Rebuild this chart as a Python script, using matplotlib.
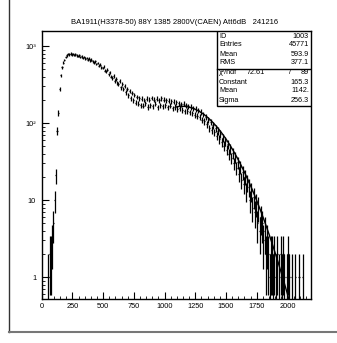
import matplotlib
matplotlib.use("Agg")
import matplotlib.pyplot as plt
from matplotlib.lines import Line2D
from matplotlib.patches import Rectangle
import numpy as np

plt.rcParams['font.family'] = ['Liberation Sans', 'DejaVu Sans']

title = "BA1911(H3378-50) 88Y 1385 2800V(CAEN) Att6dB   241216"

# histogram: 10-unit bins starting at 0
bin_width = 10
counts = [
    0, 0, 0, 0, 0, 1, 2, 2, 3, 5,                              # 0-90
    10, 21, 80, 135, 280, 420, 530, 610, 660, 720,              # 100-190
    760, 790, 780, 800, 775, 790, 765, 780, 755, 745,           # 200-290
    760, 725, 735, 700, 720, 685, 705, 665, 685, 645,           # 300-390
    665, 635, 615, 635, 585, 605, 555, 575, 530, 520,           # 400-490
    540, 480, 470, 490, 430, 455, 400, 385, 410, 350,           # 500-590
    375, 330, 325, 350, 290, 325, 275, 305, 250, 280,           # 600-690
    230, 262, 210, 245, 198, 232, 185, 220, 178, 210,           # 700-790
    172, 208, 168, 200, 180, 208, 162, 202, 172, 212,           # 800-890
    165, 202, 178, 208, 160, 198, 172, 210, 165, 202,           # 900-990
    170, 198, 160, 196, 168, 192, 155, 190, 162, 186,           # 1000-1090
    152, 182, 158, 176, 148, 178, 142, 172, 145, 166,           # 1100-1190
    138, 162, 134, 156, 128, 152, 124, 146, 120, 140,           # 1200-1290
    110, 130, 105, 120, 96, 110, 86, 104, 82, 94,               # 1300-1390
    76, 86, 68, 79, 62, 72, 57, 65, 51, 58,                     # 1400-1490
    45, 53, 40, 47, 35, 41, 30, 36, 26, 31,                     # 1500-1590
    22, 27, 18, 23, 16, 20, 13, 17, 15, 10,                     # 1600-1690
    13, 8, 11, 7, 9, 5, 8, 4, 6, 5,                             # 1700-1790
    3, 4, 2, 3, 2, 1, 2, 2, 1, 2,                               # 1800-1890
    1, 2, 0, 1, 2, 1, 2, 1, 0, 1,                               # 1900-1990
    2, 1, 0, 1, 0, 0, 1, 0, 0, 1,                               # 2000-2090
    0, 0, 1, 0, 0, 0, 0, 0, 0, 0,                               # 2100-2190
]

# gaussian fit shown in the stats box
fit_const = 165.3
fit_mean = 1142.
fit_sigma = 256.3
fit_range = (1100, 2060)

stats_top = [("ID", "1003"), ("Entries", "45771"), ("Mean", "593.9"), ("RMS", "377.1")]
stats_fit = [("Constant", "165.3"), ("Mean", "1142."), ("Sigma", "256.3")]
chi2, ndf = "72.61", "89"

fig = plt.figure(figsize=(3.37, 3.43), dpi=100)
ax = fig.add_axes([41.7 / 337, 1 - 299 / 343, 269 / 337, 268 / 343])

n = np.array(counts, dtype=float)
centers = np.arange(len(n)) * bin_width + bin_width / 2
keep = n > 0
xc, yc = centers[keep], n[keep]
err = np.sqrt(yc)
lo = np.minimum(err, yc - 0.3)
ax.errorbar(xc, yc, yerr=[lo, err], xerr=bin_width / 2, fmt='none',
            ecolor='black', elinewidth=0.9, capsize=0)

xf = np.linspace(fit_range[0], fit_range[1], 300)
ax.plot(xf, fit_const * np.exp(-0.5 * ((xf - fit_mean) / fit_sigma) ** 2),
        color='black', lw=1.0)

ax.set_yscale('log')
ax.set_xlim(0, 2190)
ax.set_ylim(0.52, 1570)
ax.set_xticks(np.arange(0, 2001, 250))
ax.set_xticks(np.arange(0, 2190, 50), minor=True)
ax.set_yticks([1, 10, 100, 1000])
ax.set_yticklabels(["1", "10", "10\u00b2", "10\u00b3"])
ax.tick_params(direction='in', length=5, width=0.8, labelsize=5.3, top=False, right=False)
ax.tick_params(which='minor', direction='in', length=2.5, width=0.6, top=False, right=False)
ax.tick_params(axis='y', pad=4)
ax.tick_params(axis='x', pad=3)
for s in ax.spines.values():
    s.set_linewidth(1.0)

fig.text(175 / 337, 1 - 23 / 343, title, ha='center', va='center', fontsize=5.5)

# stats box
fs = 5.2
bx0, by0 = (217 - 41.7) / 269, (299 - 106) / 268
ax.add_patch(Rectangle((bx0, by0), 1 - bx0, 1 - by0, transform=ax.transAxes,
                       facecolor='white', edgecolor='black', lw=1.0, zorder=5))
div = (299 - 69) / 268
ax.add_line(Line2D([bx0, 1], [div, div], transform=ax.transAxes, color='black', lw=1.0, zorder=6))

def row_y(py):
    return (299 - py) / 268

xl = (219 - 41.7) / 269
xr = (309 - 41.7) / 269
for (lab, val), py in zip(stats_top, [36, 45, 54, 63]):
    ax.text(xl, row_y(py), lab, transform=ax.transAxes, fontsize=fs, va='center', ha='left', zorder=7)
    ax.text(xr, row_y(py), val, transform=ax.transAxes, fontsize=fs, va='center', ha='right', zorder=7)
ax.text(xl, row_y(73), "\u03c7\u00b2/ndf", transform=ax.transAxes, fontsize=fs, va='center', ha='left', zorder=7)
ax.text((265 - 41.7) / 269, row_y(73), chi2, transform=ax.transAxes, fontsize=fs, va='center', ha='right', zorder=7)
ax.text((290 - 41.7) / 269, row_y(73), "/", transform=ax.transAxes, fontsize=fs, va='center', ha='center', zorder=7)
ax.text(xr, row_y(73), ndf, transform=ax.transAxes, fontsize=fs, va='center', ha='right', zorder=7)
for (lab, val), py in zip(stats_fit, [82, 91, 100]):
    ax.text(xl, row_y(py), lab, transform=ax.transAxes, fontsize=fs, va='center', ha='left', zorder=7)
    ax.text(xr, row_y(py), val, transform=ax.transAxes, fontsize=fs, va='center', ha='right', zorder=7)

# canvas border
fig.add_artist(Line2D([8.5 / 337, 8.5 / 337], [1, 1 - 332 / 343], transform=fig.transFigure,
                      color='#333333', lw=1.0))
fig.add_artist(Line2D([8.5 / 337, 1], [1 - 332 / 343, 1 - 332 / 343], transform=fig.transFigure,
                      color='#777777', lw=1.5))

fig.savefig("out.png", dpi=100)
